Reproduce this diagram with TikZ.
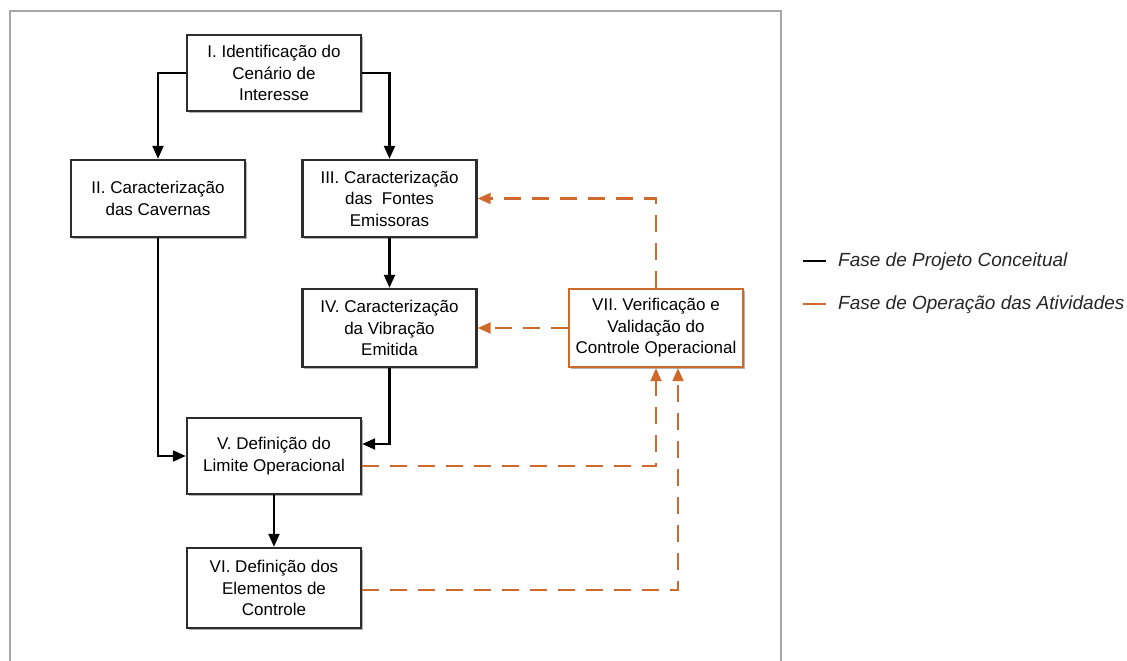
\documentclass[tikz,border=0pt]{standalone}
\usepackage{fontspec}
\setmainfont{Liberation Sans}
\usetikzlibrary{arrows.meta,shadows}
\definecolor{orng}{RGB}{208,106,44}
\definecolor{boxline}{RGB}{45,45,45}
\begin{document}
\begin{tikzpicture}[x=1pt,y=-1pt,
  box/.style={draw=boxline,line width=2.4pt,fill=white,minimum width=174pt,align=center,
    inner sep=2pt,font=\fontsize{17}{21.5}\selectfont,
    drop shadow={shadow xshift=1.5pt,shadow yshift=-2pt,fill=black,opacity=0.3}},
  obox/.style={box,draw=orng},
  blk/.style={draw=black,line width=2.2pt,-{Triangle[length=13pt,width=11pt]}},
  org/.style={draw=orng,line width=2.2pt,dash pattern=on 17pt off 11pt,-{Triangle[length=13pt,width=11pt]}},
  legtext/.style={anchor=west,inner sep=0pt,font=\fontsize{19}{21}\selectfont\itshape,text=black!85}]
\useasboundingbox (0,0) rectangle (1127,661);
\draw[gray!70,line width=1.2pt] (10,661) -- (10,11) -- (781,11) -- (781,661);

\node[box,minimum height=76pt] (I) at (274,73) {I. Identificação do\\Cenário de\\Interesse};
\node[box,minimum height=77pt] (II) at (158,198.5) {II. Caracterização\\das Cavernas};
\node[box,minimum height=77pt] (III) at (389.5,198.5) {III. Caracterização\\das~~Fontes\\Emissoras};
\node[box,minimum height=78pt] (IV) at (389.5,328) {IV. Caracterização\\da Vibração\\Emitida};
\node[obox,minimum height=78pt] (VII) at (656,328) {VII. Verificação e\\Validação do\\Controle Operacional};
\node[box,minimum height=76pt] (V) at (274,456) {V. Definição do\\Limite Operacional};
\node[box,minimum height=80pt] (VI) at (274,588) {VI. Definição dos\\Elementos de\\Controle};

\draw[blk] (I.west) -| (II.north);
\draw[blk] (I.east) -| (III.north);
\draw[blk] (III.south) -- (IV.north);
\draw[blk] (II.south) |- (V.west);
\draw[blk] (IV.south) |- ([yshift=12pt]V.east);
\draw[blk] (V.south) -- (VI.north);

\draw[org] (VII.north) |- (III.east);
\draw[org] (VII.west) -- (IV.east);
\draw[org] ([yshift=-10pt]V.east) -| (VII.south);
\draw[org] ([yshift=-2pt]VI.east) -| ([xshift=22pt]VII.south);

\coordinate (la1) at (803,261);
\coordinate (la2) at (826,261);
\coordinate (lb1) at (803,304);
\coordinate (lb2) at (826,304);
\draw[black,line width=1.5pt] (la1) -- (la2);
\draw[orng,line width=1.5pt] (lb1) -- (lb2);
\node[legtext] (ta) at (838,262) {Fase de Projeto Conceitual};
\node[legtext] (tb) at (838,305) {Fase de Operação das Atividades};
\end{tikzpicture}
\end{document}
